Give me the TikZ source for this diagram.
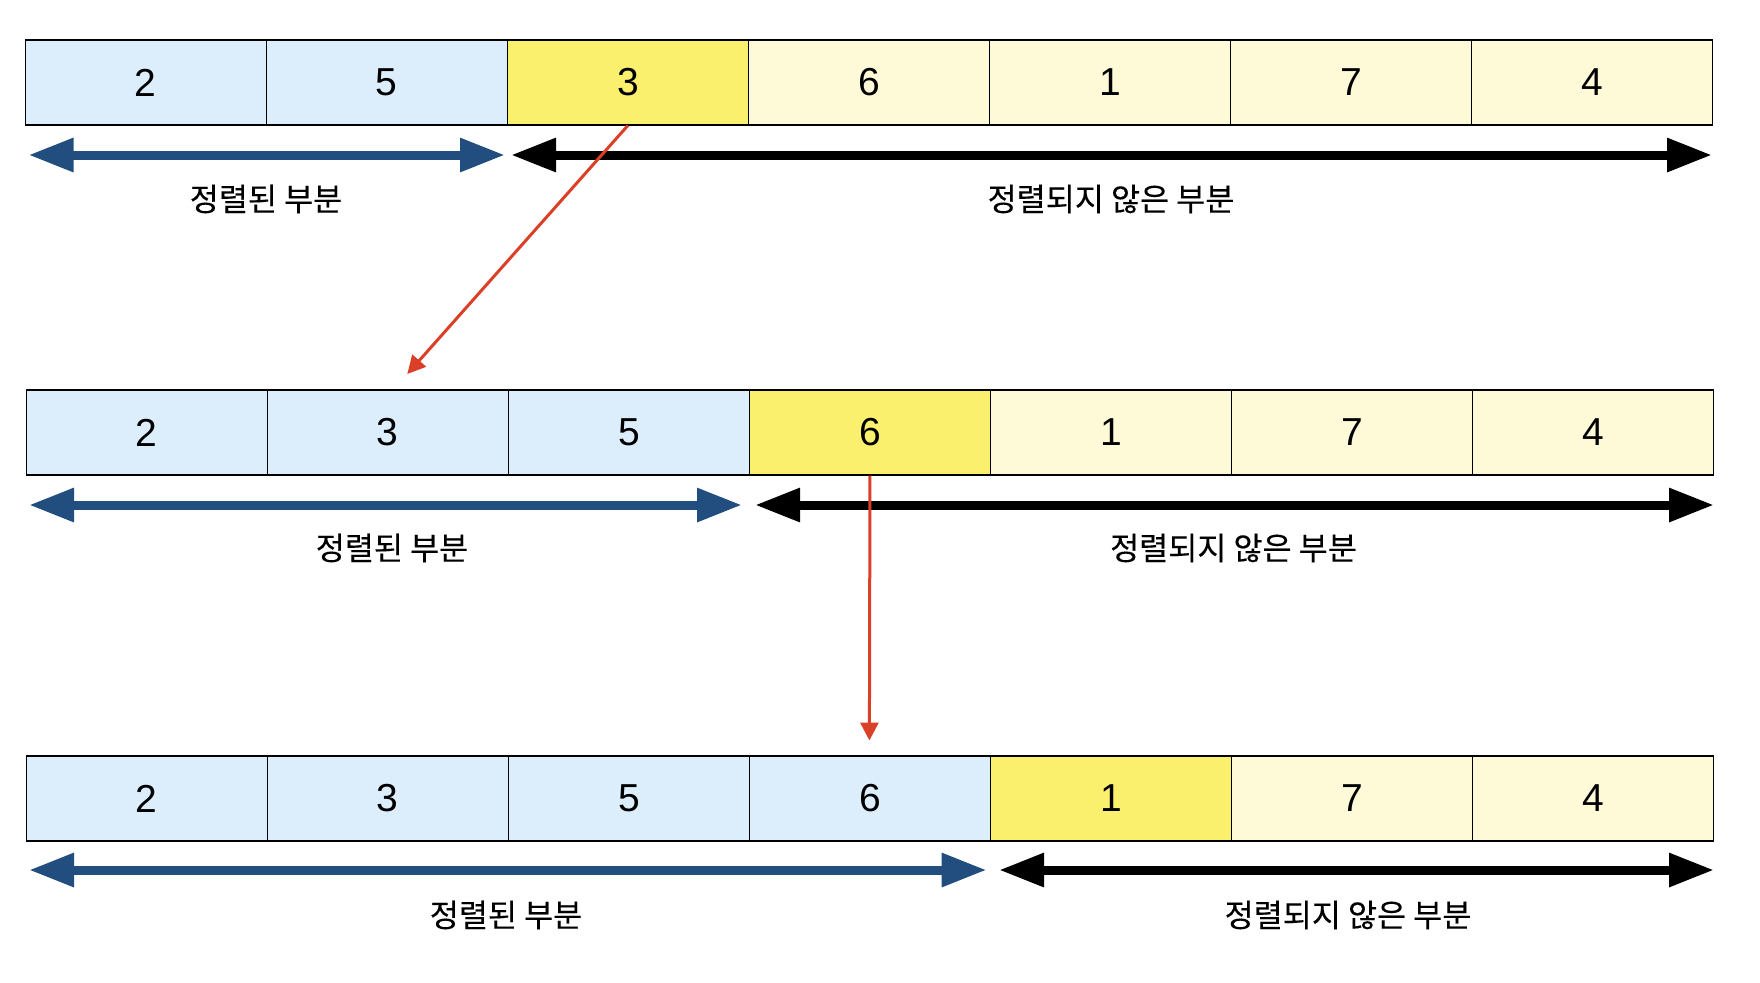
\documentclass[tikz,border=0pt]{standalone}
\usepackage{fontspec}
\setmainfont{Liberation Sans}
\newfontfamily\kr[FakeBold=0.25]{Noto Sans CJK KR}
\usetikzlibrary{arrows.meta}
\definecolor{sortbg}{HTML}{DCEDFC}
\definecolor{keybg}{HTML}{FBEF6E}
\definecolor{unsbg}{HTML}{FEFAD8}
\definecolor{sortarrow}{HTML}{214E7E}
\definecolor{movered}{HTML}{DA3F27}
\tikzset{
  cell/.style={draw=black, line width=0.6pt, minimum width=120.55pt, minimum height=42.5pt,
    inner sep=0pt, anchor=north west, font=\fontsize{19.5}{20}\selectfont},
  sortcell/.style={cell, fill=sortbg},
  keycell/.style={cell, fill=keybg},
  unscell/.style={cell, fill=unsbg},
  spanarrow/.style={line width=4.5pt, {Triangle[length=22.5pt,width=16pt]}-{Triangle[length=22.5pt,width=16pt]}},
  sortspan/.style={spanarrow, draw=sortarrow, fill=sortarrow},
  unsspan/.style={spanarrow, draw=black, fill=black},
  partlabel/.style={font=\kr\fontsize{15.8}{17}\selectfont, inner sep=0pt},
  movearrow/.style={draw=movered, line width=1.5pt, -{Triangle[length=9pt,width=9pt]}}
}
\begin{document}
\begin{tikzpicture}[x=0.5pt,y=-0.5pt]
\useasboundingbox (0,0) rectangle (1760,982);
% row 1
\node[sortcell] (a1) at (24.5,39.3) {2};
\node[sortcell] (a2) at (265.6,39.3) {5};
\node[keycell]  (a3) at (506.7,39.3) {3};
\node[unscell]  (a4) at (747.8,39.3) {6};
\node[unscell]  (a5) at (988.9,39.3) {1};
\node[unscell]  (a6) at (1230.0,39.3) {7};
\node[unscell]  (a7) at (1471.1,39.3) {4};
\coordinate (a1l) at (28.5,155);
\coordinate (a1r) at (505,155);
\coordinate (a2l) at (511,155);
\coordinate (a2r) at (1712,155);
\draw[sortspan] (a1l) -- (a1r);
\draw[unsspan] (a2l) -- (a2r);
\node[partlabel] (la1) at (266,199) {정렬된 부분};
\node[partlabel] (la2) at (1111,199) {정렬되지 않은 부분};
% row 2
\node[sortcell] (b1) at (25.5,389.3) {2};
\node[sortcell] (b2) at (266.6,389.3) {3};
\node[sortcell] (b3) at (507.7,389.3) {5};
\node[keycell]  (b4) at (748.8,389.3) {6};
\node[unscell]  (b5) at (989.9,389.3) {1};
\node[unscell]  (b6) at (1231.0,389.3) {7};
\node[unscell]  (b7) at (1472.1,389.3) {4};
\coordinate (b1l) at (29,505);
\coordinate (b1r) at (742,505);
\coordinate (b2l) at (755,505);
\coordinate (b2r) at (1714,505);
\draw[sortspan] (b1l) -- (b1r);
\draw[unsspan] (b2l) -- (b2r);
\node[partlabel] (lb1) at (392,548) {정렬된 부분};
\node[partlabel] (lb2) at (1233.5,548) {정렬되지 않은 부분};
% row 3
\node[sortcell] (c1) at (25.5,755.3) {2};
\node[sortcell] (c2) at (266.6,755.3) {3};
\node[sortcell] (c3) at (507.7,755.3) {5};
\node[sortcell] (c4) at (748.8,755.3) {6};
\node[keycell]  (c5) at (989.9,755.3) {1};
\node[unscell]  (c6) at (1231.0,755.3) {7};
\node[unscell]  (c7) at (1472.1,755.3) {4};
\coordinate (c1l) at (29,870);
\coordinate (c1r) at (986.6,870);
\coordinate (c2l) at (999,870);
\coordinate (c2r) at (1714,870);
\draw[sortspan] (c1l) -- (c1r);
\draw[unsspan] (c2l) -- (c2r);
\node[partlabel] (lc1) at (506,915) {정렬된 부분};
\node[partlabel] (lc2) at (1348,915) {정렬되지 않은 부분};
% moves
\coordinate (tip1) at (407.3,374);
\coordinate (tip2) at (869.4,740.5);
\draw[movearrow] (a3.south) -- (tip1);
\draw[movearrow] (b4.south) -- (tip2);
\end{tikzpicture}
\end{document}
